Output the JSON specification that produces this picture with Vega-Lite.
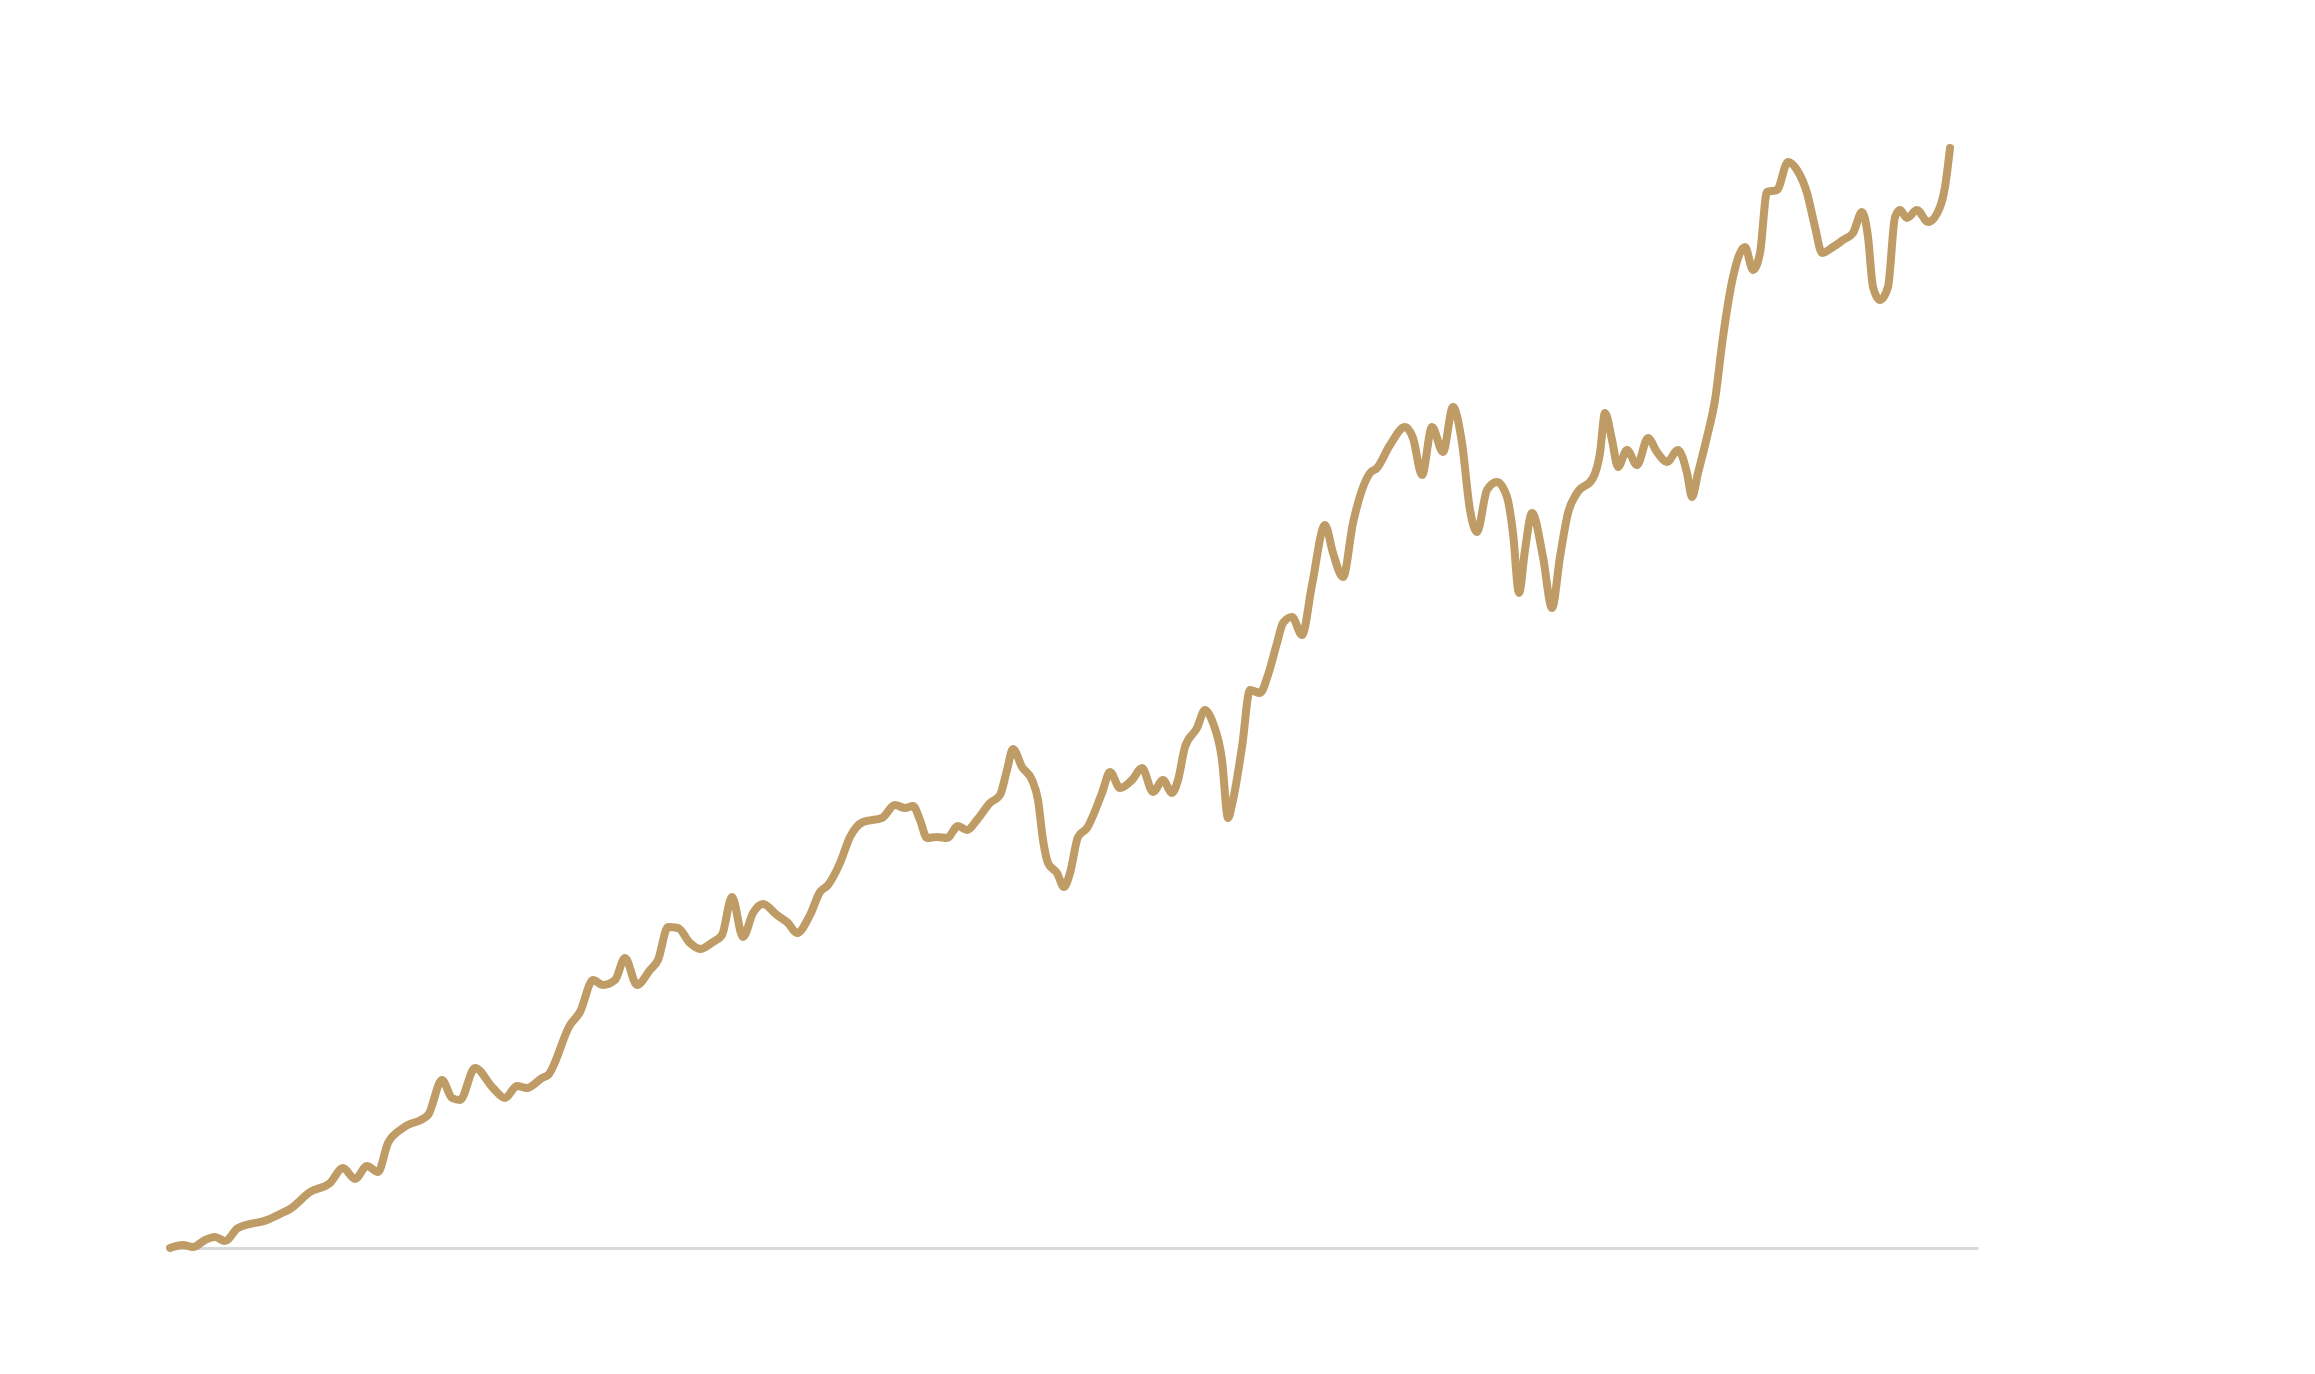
{
  "$schema": "https://vega.github.io/schema/vega-lite/v6.json",
  "width": 1808,
  "height": 1100,
  "autosize": {"type": "none"},
  "padding": {"left": 170, "top": 148, "right": 337, "bottom": 126},
  "background": "white",
  "config": {"view": {"stroke": null}},
  "data": {"values": [
    {"t":0,"v":0},{"t":13,"v":3},{"t":23,"v":1},{"t":35,"v":8},{"t":45,"v":11},{"t":55,"v":7},{"t":68,"v":20},{"t":97,"v":28},{"t":112,"v":35},{"t":120,"v":39},
    {"t":140,"v":56},{"t":160,"v":65},{"t":173,"v":80},{"t":185,"v":69},{"t":197,"v":82},{"t":208,"v":76},{"t":218,"v":105},{"t":233,"v":120},{"t":258,"v":133},{"t":272,"v":168},
    {"t":282,"v":150},{"t":290,"v":148},{"t":305,"v":180},{"t":323,"v":160},{"t":335,"v":150},{"t":347,"v":162},{"t":357,"v":160},{"t":372,"v":170},{"t":378,"v":173},{"t":400,"v":223},
    {"t":410,"v":236},{"t":423,"v":268},{"t":433,"v":263},{"t":445,"v":268},{"t":455,"v":290},{"t":467,"v":263},{"t":480,"v":278},{"t":488,"v":288},{"t":498,"v":321},{"t":508,"v":320},
    {"t":520,"v":305},{"t":530,"v":299},{"t":543,"v":306},{"t":552,"v":313},{"t":562,"v":351},{"t":573,"v":311},{"t":583,"v":335},{"t":593,"v":344},{"t":607,"v":333},{"t":618,"v":325},
    {"t":627,"v":315},{"t":640,"v":333},{"t":650,"v":356},{"t":658,"v":363},{"t":670,"v":385},{"t":680,"v":411},{"t":693,"v":426},{"t":712,"v":430},{"t":725,"v":443},{"t":735,"v":440},
    {"t":743,"v":442},{"t":750,"v":428},{"t":757,"v":410},{"t":767,"v":411},{"t":777,"v":410},{"t":788,"v":422},{"t":797,"v":418},{"t":807,"v":428},{"t":820,"v":445},{"t":830,"v":453},
    {"t":837,"v":478},{"t":843,"v":499},{"t":852,"v":481},{"t":862,"v":468},{"t":868,"v":448},{"t":873,"v":408},{"t":878,"v":385},{"t":887,"v":375},{"t":894,"v":361},{"t":900,"v":375},
    {"t":908,"v":411},{"t":917,"v":420},{"t":932,"v":455},{"t":940,"v":476},{"t":950,"v":460},{"t":962,"v":468},{"t":972,"v":480},{"t":983,"v":456},{"t":993,"v":468},{"t":1002,"v":455},
    {"t":1008,"v":468},{"t":1015,"v":501},{"t":1027,"v":520},{"t":1035,"v":538},{"t":1043,"v":525},{"t":1052,"v":488},{"t":1058,"v":430},{"t":1063,"v":448},{"t":1072,"v":501},{"t":1080,"v":558},
    {"t":1090,"v":555},{"t":1098,"v":573},{"t":1107,"v":605},{"t":1113,"v":625},{"t":1122,"v":631},{"t":1132,"v":613},{"t":1142,"v":663},{"t":1155,"v":723},{"t":1163,"v":695},{"t":1173,"v":671},
    {"t":1183,"v":725},{"t":1192,"v":758},{"t":1200,"v":775},{"t":1207,"v":780},{"t":1220,"v":803},{"t":1235,"v":821},{"t":1243,"v":810},{"t":1252,"v":773},{"t":1262,"v":821},{"t":1273,"v":796},
    {"t":1283,"v":841},{"t":1292,"v":805},{"t":1300,"v":738},{"t":1307,"v":716},{"t":1317,"v":758},{"t":1327,"v":766},{"t":1337,"v":751},{"t":1343,"v":715},{"t":1349,"v":655},{"t":1355,"v":698},
    {"t":1362,"v":735},{"t":1373,"v":691},{"t":1382,"v":640},{"t":1390,"v":691},{"t":1398,"v":735},{"t":1407,"v":755},{"t":1423,"v":770},{"t":1430,"v":795},{"t":1435,"v":835},{"t":1442,"v":808},
    {"t":1448,"v":781},{"t":1457,"v":798},{"t":1467,"v":783},{"t":1478,"v":810},{"t":1487,"v":796},{"t":1497,"v":786},{"t":1508,"v":798},{"t":1517,"v":775},{"t":1522,"v":751},{"t":1528,"v":775},
    {"t":1537,"v":811},{"t":1545,"v":848},{"t":1553,"v":911},{"t":1563,"v":971},{"t":1575,"v":1001},{"t":1583,"v":978},{"t":1590,"v":995},{"t":1597,"v":1056},{"t":1607,"v":1058},{"t":1618,"v":1086},
    {"t":1627,"v":1078},{"t":1637,"v":1055},{"t":1645,"v":1021},{"t":1652,"v":995},{"t":1663,"v":1001},{"t":1673,"v":1008},{"t":1683,"v":1015},{"t":1692,"v":1036},{"t":1698,"v":1011},{"t":1703,"v":961},
    {"t":1710,"v":948},{"t":1718,"v":961},{"t":1725,"v":1031},{"t":1730,"v":1038},{"t":1737,"v":1030},{"t":1747,"v":1038},{"t":1758,"v":1026},{"t":1770,"v":1041},{"t":1775,"v":1061},{"t":1780,"v":1100}
  ]},
  "mark": {"type": "line", "interpolate": "monotone", "color": "#bf9b66", "strokeWidth": 8, "strokeCap": "round", "strokeJoin": "round"},
  "encoding": {
    "x": {"field": "t", "type": "quantitative", "scale": {"domain": [0, 1808], "nice": false, "zero": false},
          "axis": {"labels": false, "ticks": false, "grid": false, "title": null, "domainColor": "#d9d9d9", "domainWidth": 3}},
    "y": {"field": "v", "type": "quantitative", "scale": {"domain": [0, 1100], "nice": false}, "axis": null}
  }
}
